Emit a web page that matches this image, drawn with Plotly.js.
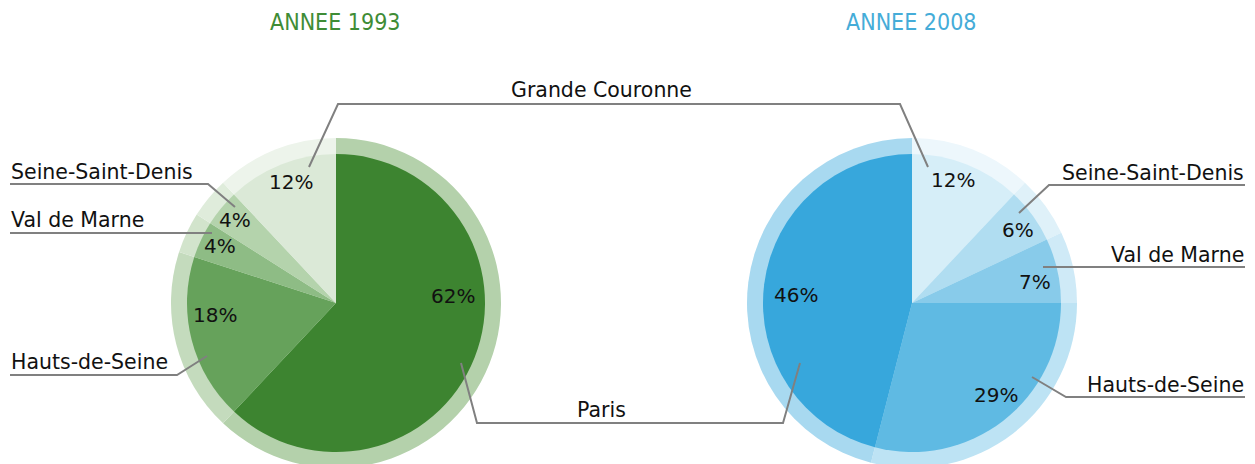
<!DOCTYPE html>
<html>
<head>
<meta charset="utf-8">
<script src="https://cdn.plot.ly/plotly-3.0.1.min.js"></script>
<style>
html,body{margin:0;padding:0;overflow:hidden;background:#fff;}
#chart{width:1255px;height:470px;}
</style>
</head>
<body>
<div id="chart"></div>
<script>
// ---- data ----
const categories = ["Paris", "Hauts-de-Seine", "Val de Marne", "Seine-Saint-Denis", "Grande Couronne"];
const values1993 = [62, 18, 4, 4, 12];
const values2008 = [46, 29, 7, 6, 12];
const years = ["ANNEE 1993", "ANNEE 2008"];

// ---- styling ----
const greenInner = ["#3d8430", "#66a25b", "#8ebc85", "#b4d3ac", "#dbe9d7"];
const greenOuter = ["#b4d1ab", "#c4dbbd", "#d2e4cc", "#dfecdb", "#edf4eb"];
const blueInner  = ["#37a7dc", "#5fbae3", "#88cbea", "#b0ddf1", "#d6eef8"];
const blueOuter  = ["#a8d9f0", "#bde3f4", "#cfeaf7", "#dff1f9", "#edf7fc"];

const W = 1255, H = 470;
const px = x => x / W;
const py = y => (H - y) / H;

// both pies drawn clockwise from 12 o'clock; 2008 pie uses the reversed order
function pieTrace(labels, vals, colors, cx, cy, r) {
  return {
    type: "pie", labels: labels, values: vals, sort: false,
    direction: "clockwise", rotation: 0,
    marker: {colors: colors, line: {width: 0}},
    textinfo: "none", hoverinfo: "skip", showlegend: false,
    domain: {x: [px(cx - r), px(cx + r)], y: [py(cy + r), py(cy - r)]}
  };
}
const rev = a => a.slice().reverse();

const L = {cx: 336, cy: 303}, R = {cx: 912, cy: 303};
const rOut = 165, rIn = 149;

const data = [
  pieTrace(categories, values1993, greenOuter, L.cx, L.cy, rOut),
  pieTrace(categories, values1993, greenInner, L.cx, L.cy, rIn),
  pieTrace(rev(categories), rev(values2008), rev(blueOuter), R.cx, R.cy, rOut),
  pieTrace(rev(categories), rev(values2008), rev(blueInner), R.cx, R.cy, rIn)
];

const font = "DejaVu Sans, Verdana, sans-serif";
const ann = [];
function txt(x, y, t, size, color, xanchor, fam) {
  ann.push({xref: "paper", yref: "paper", x: px(x), y: py(y), text: t, showarrow: false,
    xanchor: xanchor || "center", yanchor: "middle",
    font: {family: fam || font, size: size, color: color || "#111"}});
}

// titles
const condensed = "DejaVu Sans Condensed, DejaVu Sans, sans-serif";
txt(335, 22, years[0], 23, "#3f8c36", "center", condensed);
txt(911, 22, years[1], 23, "#45acd8", "center", condensed);

// connecting labels
txt(601, 90, categories[4], 20.5);
txt(601, 410, categories[0], 20.5);

// left side labels
txt(9, 172, categories[3], 20.5, "#111", "left");
txt(9, 220, categories[2], 20.5, "#111", "left");
txt(9, 362, categories[1], 20.5, "#111", "left");
// right side labels
txt(1246, 173, categories[3], 20.5, "#111", "right");
txt(1246, 255, categories[2], 20.5, "#111", "right");
txt(1246, 385, categories[1], 20.5, "#111", "right");

// percentages
const pos1993 = [[453, 296], [215, 315], [220, 246], [235, 220], [291, 182]];
const pos2008 = [[796, 295], [996, 395], [1035, 282], [1018, 230], [953, 180]];
values1993.forEach((v, i) => txt(pos1993[i][0], pos1993[i][1], v + "%", 20));
values2008.forEach((v, i) => txt(pos2008[i][0], pos2008[i][1], v + "%", 20));

// leader lines
function path(pts) {
  return {type: "path", xref: "paper", yref: "paper",
    path: pts.map((p, i) => (i ? "L" : "M") + px(p[0]) + "," + py(p[1])).join(" "),
    line: {color: "#808080", width: 2}};
}
const shapes = [
  path([[309, 167], [338, 104], [900, 104], [928, 167]]),
  path([[461, 363], [477, 423], [783, 423], [800, 363]]),
  path([[10, 184], [208, 184], [235, 207]]),
  path([[10, 233], [212, 233]]),
  path([[10, 375], [177, 375], [207, 356]]),
  path([[1245, 185], [1049, 185], [1019, 213]]),
  path([[1245, 267], [1043, 267]]),
  path([[1245, 397], [1066, 397], [1032, 377]])
];

const layout = {
  width: W, height: H,
  margin: {l: 0, r: 0, t: 0, b: 0},
  paper_bgcolor: "#ffffff", plot_bgcolor: "#ffffff",
  showlegend: false,
  annotations: ann, shapes: shapes
};
Plotly.newPlot("chart", data, layout, {displayModeBar: false, staticPlot: true});
</script>
</body>
</html>
